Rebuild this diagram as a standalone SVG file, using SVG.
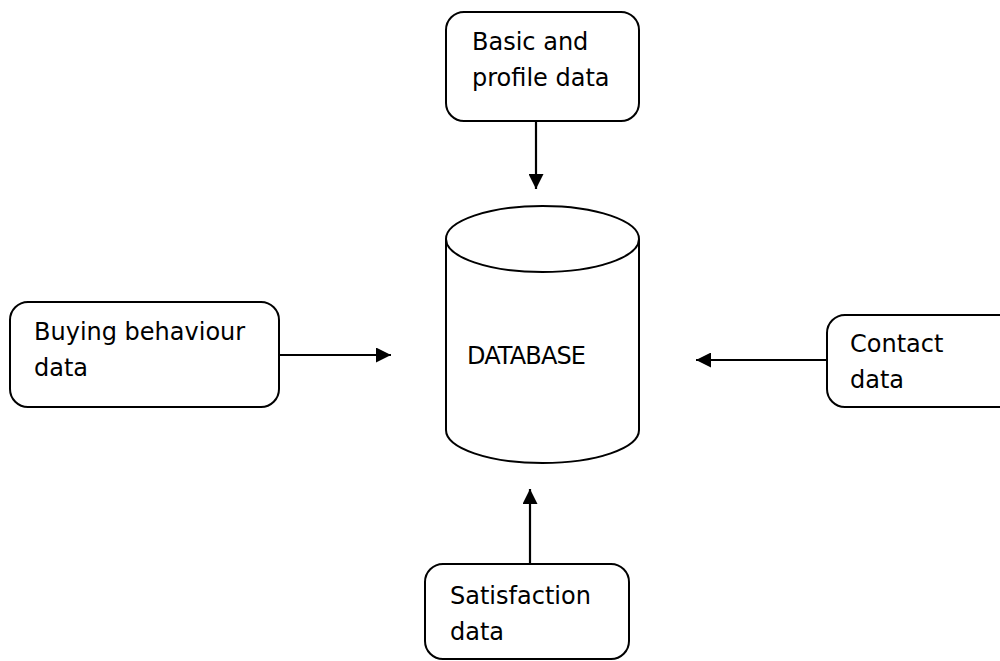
<svg xmlns="http://www.w3.org/2000/svg" width="1000" height="661" viewBox="0 0 1000 661">
<defs>
<style>
.box{fill:#fff;stroke:#000;stroke-width:2}
.t{font-family:"DejaVu Sans",sans-serif;font-size:24px;fill:#000}
.c{stroke:#000;stroke-width:2.2;fill:none}
</style>
<marker id="ah" viewBox="0 0 10 10" refX="10" refY="5" markerWidth="15" markerHeight="15" markerUnits="userSpaceOnUse" orient="auto">
<path d="M0,0 L10,5 L0,10 Z" fill="#000"/>
</marker>
</defs>
<rect width="1000" height="661" fill="#fff"/>
<g id="connectors">
<line class="c" x1="536" y1="121" x2="536" y2="189" marker-end="url(#ah)"/>
<line class="c" x1="279" y1="355" x2="391" y2="355" marker-end="url(#ah)"/>
<line class="c" x1="827" y1="360" x2="696" y2="360" marker-end="url(#ah)"/>
<line class="c" x1="530" y1="564" x2="530" y2="489" marker-end="url(#ah)"/>
</g>
<g id="basic">
<rect class="box" x="446" y="12" width="193" height="109" rx="18"/>
<text class="t" x="472" y="50">Basic and</text>
<text class="t" x="472" y="86">profile data</text>
</g>
<g id="database">
<path class="box" d="M446,239 L446,430 A96.5,33 0 0 0 639,430 L639,239"/>
<ellipse class="box" cx="542.5" cy="239" rx="96.5" ry="33"/>
<text class="t" x="467" y="364" textLength="119">DATABASE</text>
</g>
<g id="buying">
<rect class="box" x="10" y="302" width="269" height="105" rx="18"/>
<text class="t" x="34" y="340">Buying behaviour</text>
<text class="t" x="34" y="376">data</text>
</g>
<g id="contact">
<rect class="box" x="827" y="315" width="200" height="92" rx="18"/>
<text class="t" x="850" y="352">Contact</text>
<text class="t" x="850" y="388">data</text>
</g>
<g id="satisfaction">
<rect class="box" x="425" y="564" width="204" height="95" rx="18"/>
<text class="t" x="450" y="604">Satisfaction</text>
<text class="t" x="450" y="640">data</text>
</g>
</svg>
